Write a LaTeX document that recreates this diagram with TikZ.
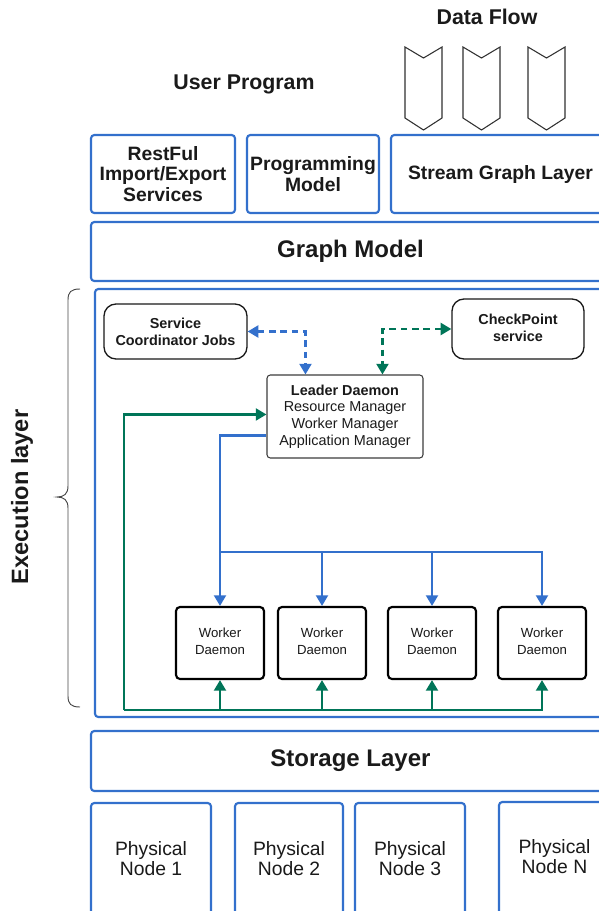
\documentclass[tikz,border=0pt]{standalone}
\usepackage{fontspec}
\setmainfont{Liberation Sans}
\usetikzlibrary{arrows.meta,fit,calc}
\definecolor{myblue}{RGB}{51,112,204}
\definecolor{mygreen}{RGB}{0,117,88}
\definecolor{txt}{RGB}{26,26,26}
\begin{document}
\begin{tikzpicture}[x=0.75pt,y=-0.75pt,
  every node/.style={text=txt},
  bluebox/.style={draw=myblue,line width=1.6pt,rounded corners=2.5pt,fill=white,inner sep=0pt,align=center},
  roundbox/.style={draw=txt,line width=1pt,rounded corners=9pt,inner sep=0pt,align=center},
  leaderbox/.style={draw=txt!85,line width=0.8pt,rounded corners=2.5pt,inner sep=0pt,align=center},
  workerbox/.style={draw=black,line width=1.6pt,rounded corners=3pt,inner sep=0pt,align=center},
  bigbold/.style={font=\fontsize{18}{20}\selectfont\bfseries},
  midbold/.style={font=\fontsize{14.5}{15.4}\selectfont\bfseries},
  physfont/.style={font=\fontsize{14.5}{15}\selectfont},
  chev/.style={draw=txt!90,line width=0.8pt,fill=white},
  tipb/.style={-{Triangle[length=8pt,width=9pt]}},
  conn/.style={line width=1.7pt},
  dbl/.style={{Triangle[length=8pt,width=9pt]}-{Triangle[length=8pt,width=9pt]},dash pattern=on 5pt off 3.5pt},
]
\useasboundingbox (0,0) rectangle (599,911);
\clip (0,0) rectangle (599,911);
\fill[white] (0,0) rectangle (599,911);

% titles
\node[font=\fontsize{16}{18}\selectfont\bfseries] (df) at (487,17) {Data Flow};
\node[font=\fontsize{16}{18}\selectfont\bfseries] (up) at (244,84) {User Program};

% chevrons
\foreach \a/\b in {405/442,463/500,528/565}{
  \draw[chev] (\a,47) -- ({(\a+\b)/2},58) -- (\b,47) -- (\b,118) -- ({(\a+\b)/2},130) -- (\a,118) -- cycle;
}

% top boxes
\node[bluebox,fit={(91,135) (235,213)}] (rest) {};
\node[midbold,align=center] at (rest.center) {RestFul\\Import/Export\\Services};
\node[bluebox,fit={(247,135) (379,213)}] (prog) {};
\node[midbold,align=center] at (prog.center) {Programming\\Model};
\node[bluebox,fit={(391,135) (610,213)}] (sgl) {};
\node[midbold] at (sgl.center) {Stream Graph Layer};
\node[bluebox,fit={(91,222) (610,281)}] (gm) {};
\node[bigbold] at (gm.center) {Graph Model};

% execution layer
\node[bluebox,fit={(95,289) (610,717)}] (exec) {};
\node[font=\fontsize{17.7}{20}\selectfont\bfseries,rotate=90] (el) at (22,497) {Execution layer};
\draw[txt!80,line width=0.7pt] (80,289) .. controls (71,289) and (68,292) .. (68,300) -- (68,486)
  .. controls (68,494) and (64,497) .. (57,497) .. controls (64,497) and (68,500) .. (68,508)
  -- (68,696) .. controls (68,704) and (71,707) .. (80,707);

\node[roundbox,fit={(104,304) (247,359)}] (sc) {};
\node[font=\fontsize{10.8}{12.75}\selectfont\bfseries,align=center] at (sc.center) {Service\\Coordinator Jobs};
\node[roundbox,fit={(452,299) (584,359)}] (cp) {};
\node[font=\fontsize{10.8}{12.75}\selectfont\bfseries,align=center] at ($(cp.center)+(0,-1)$) {CheckPoint\\service};
\node[leaderbox,fit={(267,375) (423,458)}] (ld) {};
\node[font=\fontsize{10.8}{12.5}\selectfont,align=center] at (ld.center) {\textbf{Leader Daemon}\\Resource Manager\\Worker Manager\\Application Manager};

\foreach \n/\a/\b in {w1/176/264,w2/278/366,w3/388/476,w4/498/586}{
  \node[workerbox,fit={(\a,607) (\b,679)}] (\n) {};
  \node[font=\fontsize{9.9}{12.6}\selectfont,align=center] at ($(\n.center)+(0,-2)$) {Worker\\Daemon};
}

% dashed connectors
\draw[conn,myblue,dbl] (sc.east) -| ($(ld.north west)+(39,0)$);
\draw[conn,mygreen,dbl] (cp.west) -| ($(ld.north west)+(116,0)$);

% green feedback
\coordinate (gb) at (124,710);
\draw[conn,mygreen,tipb] (gb) |- ($(ld.north west)+(0,40)$);
\draw[conn,mygreen,tipb] (gb) -| (w4.south);
\foreach \n in {w1,w2,w3}{
  \draw[conn,mygreen,tipb] (\n.south |- gb) -- (\n.south);
}

% blue distribution
\coordinate (bb) at (220,552);
\draw[conn,myblue,tipb] ($(ld.north west)+(0,61)$) -| (w1.north);
\draw[conn,myblue,tipb] (bb) -| (w4.north);
\foreach \n in {w2,w3}{
  \draw[conn,myblue,tipb] (\n.north |- bb) -- (\n.north);
}

% storage layer
\node[bluebox,fit={(91,731) (610,791)}] (sl) {};
\node[bigbold] at (sl.center) {Storage Layer};

\node[bluebox,fit={(91,803) (211,915)}] (p1) {};
\node[physfont,align=center] at (p1.center) {Physical\\Node 1};
\node[bluebox,fit={(235,803) (343,915)}] (p2) {};
\node[physfont,align=center] at (p2.center) {Physical\\Node 2};
\node[bluebox,fit={(355,803) (465,915)}] (p3) {};
\node[physfont,align=center] at (p3.center) {Physical\\Node 3};
\node[bluebox,fit={(499,802) (610,915)}] (pn) {};
\node[physfont,align=center] at ($(pn.center)+(0,-2)$) {Physical\\Node N};
\end{tikzpicture}
\end{document}
